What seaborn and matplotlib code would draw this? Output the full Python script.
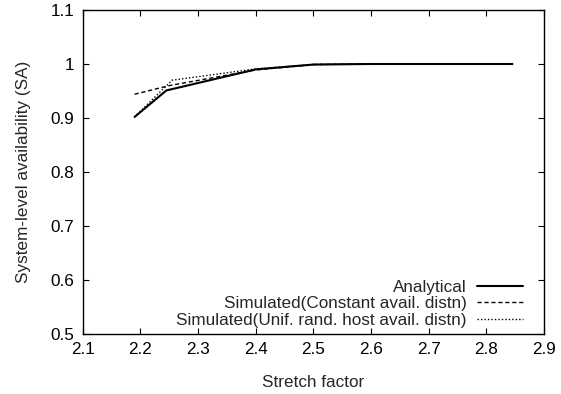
import pandas as pd
import matplotlib
matplotlib.use("Agg")
import matplotlib.pyplot as plt
import seaborn as sns

# values
stretch_analytical = [2.19, 2.245, 2.4, 2.5, 2.6, 2.7, 2.845]
sa_analytical = [0.902, 0.951, 0.99, 0.999, 1.0, 1.0, 1.0]

stretch_const = [2.19, 2.25, 2.4, 2.5, 2.6, 2.7, 2.845]
sa_const = [0.944, 0.960, 0.989, 0.999, 1.0, 1.0, 1.0]

stretch_unif = [2.19, 2.255, 2.4, 2.5, 2.6, 2.7, 2.845]
sa_unif = [0.902, 0.970, 0.991, 0.999, 1.0, 1.0, 1.0]

labels = ["Analytical",
          "Simulated(Constant avail. distn)",
          "Simulated(Unif. rand. host avail. distn)"]

sns.set_style("ticks")
plt.rcParams['font.family'] = ['Liberation Sans', 'DejaVu Sans']
fs = 12.3

fig = plt.figure(figsize=(5.61, 3.94), dpi=100)
ax = fig.add_axes([0.1474, 0.1523, 0.8226, 0.8223])

series = [
    (stretch_analytical, sa_analytical, labels[0], '-', 1.5),
    (stretch_const, sa_const, labels[1], (0, (3, 2)), 1.0),
    (stretch_unif, sa_unif, labels[2], (0, (1, 1.5)), 1.0),
]
for xs, ys, lab, ls, lw in series:
    d = pd.DataFrame({'x': xs, 'y': ys})
    sns.lineplot(data=d, x='x', y='y', ax=ax, color='black', linestyle=ls,
                 linewidth=lw, label=lab)

ax.set_xlim(2.1, 2.9)
ax.set_ylim(0.5, 1.1)
ax.set_xticks([2.1, 2.2, 2.3, 2.4, 2.5, 2.6, 2.7, 2.8, 2.9])
ax.set_yticks([0.5, 0.6, 0.7, 0.8, 0.9, 1.0, 1.1])
ax.set_yticklabels(['0.5', '0.6', '0.7', '0.8', '0.9', '1', '1.1'])
ax.tick_params(direction='in', length=4, width=0.8, top=True, right=True,
               labelsize=fs, colors='black', pad=6)
for s in ax.spines.values():
    s.set_visible(True)
    s.set_color('black')
    s.set_linewidth(1.0)

ax.set_xlabel("Stretch factor", fontsize=fs, labelpad=13)
ax.set_ylabel("System-level availability (SA)", fontsize=fs, labelpad=14)

leg = ax.legend(loc='lower right', bbox_to_anchor=(0.9545, 0.02),
                markerfirst=False, frameon=False, fontsize=fs,
                handlelength=2.7, handletextpad=0.6, labelspacing=0.08,
                borderpad=0, borderaxespad=0)

fig.savefig("out.png", dpi=100)
